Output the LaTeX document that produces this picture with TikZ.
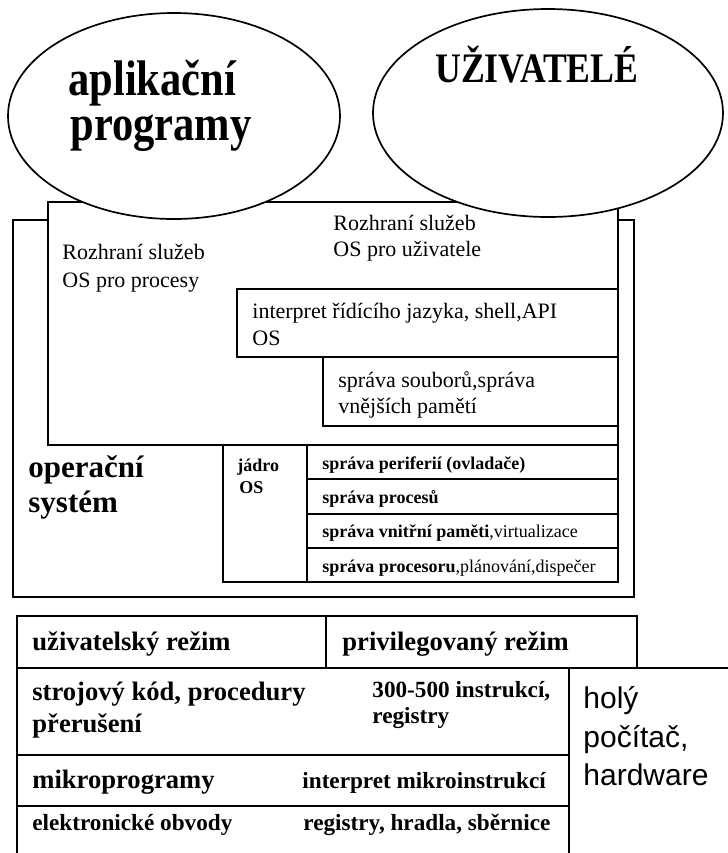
\documentclass[tikz,border=0pt]{standalone}
\usepackage{fontspec}
\setmainfont{Liberation Serif}
\newfontfamily\narrowfont[FakeStretch=0.85]{Liberation Serif}
\newfontfamily\hwfont{Liberation Sans}

\begin{document}
\begin{tikzpicture}[
  x=0.5pt,y=-0.5pt,
  frame/.style={draw=black,line width=0.75pt,fill=white},
  oval/.style={draw=black,line width=0.85pt,fill=white},
  rule/.style={draw=black,line width=0.75pt},
  txt/.style={anchor=base west,inner sep=0pt,font=\fontsize{11}{13}\selectfont},
  bigtitle/.style={txt,font=\narrowfont\fontsize{25}{28}\selectfont\bfseries},
  ostitle/.style={txt,font=\fontsize{15.5}{18}\selectfont\bfseries},
  kerneltxt/.style={txt,font=\fontsize{9}{11}\selectfont\bfseries},
  modetxt/.style={txt,font=\fontsize{13.3}{16}\selectfont\bfseries},
  notetxt/.style={txt,font=\fontsize{11.6}{14}\selectfont\bfseries},
  hwtxt/.style={txt,font=\hwfont\fontsize{15}{18}\selectfont}
]
\useasboundingbox (0,0) rectangle (728,853);

% Operating system: outer frame and the service interface box on top of it.
\path[frame] (13,220) rectangle (634,597);
\path[frame] (48,202) rectangle (618,445);

% Applications and users sit over the interface box.
\path[oval] (174,116) ellipse [x radius=83pt,y radius=51.5pt];
\path[oval] (548,113) ellipse [x radius=87.5pt,y radius=52pt];
\node[bigtitle] (apps1) at (68,95) {aplikační};
\node[bigtitle] (apps2) at (70,140) {programy};
\node[bigtitle,font=\narrowfont\fontsize{21}{24}\selectfont\bfseries] (users) at (435,82) {UŽIVATELÉ};

% Interfaces, shell and file management.
\node[txt] (procifc1) at (62,259) {Rozhraní služeb};
\node[txt] (procifc2) at (62,287) {OS pro procesy};
\node[txt] (userifc1) at (333,230) {Rozhraní služeb};
\node[txt] (userifc2) at (333,256) {OS pro uživatele};
\path[frame] (237,289) rectangle (618,357);
\node[txt] (shell1) at (252,318) {interpret řídícího jazyka, shell,API};
\node[txt] (shell2) at (252,345) {OS};
\path[frame] (323,357) rectangle (618,426);
\node[txt] (files1) at (338,387) {správa souborů,správa};
\node[txt] (files2) at (338,413) {vnějších pamětí};

% Kernel with its four managers.
\node[ostitle] (os1) at (28,477) {operační};
\node[ostitle] (os2) at (28,512) {systém};
\path[frame] (223,445) rectangle (307,582);
\node[kerneltxt] (kernel1) at (237,471) {jádro};
\node[kerneltxt] (kernel2) at (239,493) {OS};
\path[frame] (307,445) rectangle (618,582);
\foreach \y in {479,514,548}
  \draw[rule] (307,\y) -- (618,\y);
\node[kerneltxt] (periph) at (322,469) {správa periferií (ovladače)};
\node[kerneltxt] (procs) at (322,503) {správa procesů};
\node[kerneltxt] (memory) at (322,537) {správa vnitřní paměti\mdseries,virtualizace};
\node[kerneltxt] (cpu) at (322,572) {správa procesoru\mdseries,plánování,dispečer};

% Processor modes and the bare machine.
\path[frame] (17,616) rectangle (637,668);
\draw[rule] (326,616) -- (326,668);
\draw[rule] (17,668) -- (728,668);
\draw[rule] (17,668) -- (17,853);
\draw[rule] (569,668) -- (569,853);
\draw[rule] (17,755) -- (569,755);
\draw[rule] (17,806) -- (569,806);
\node[modetxt] (usermode) at (32,650) {uživatelský režim};
\node[modetxt] (privmode) at (342,650) {privilegovaný režim};
\node[modetxt] (machine1) at (32,700) {strojový kód, procedury};
\node[modetxt] (machine2) at (32,732) {přerušení};
\node[notetxt] (isa1) at (372,697) {300-500 instrukcí,};
\node[notetxt] (isa2) at (372,723) {registry};
\node[modetxt] (micro) at (32,788) {mikroprogramy};
\node[notetxt] (microint) at (302,788) {interpret mikroinstrukcí};
\node[notetxt] (circuits) at (32,830) {elektronické obvody};
\node[notetxt] (gates) at (303,830) {registry, hradla, sběrnice};
\node[hwtxt] (hw1) at (583,708) {holý};
\node[hwtxt] (hw2) at (583,747) {počítač,};
\node[hwtxt] (hw3) at (583,785) {hardware};
\end{tikzpicture}
\end{document}
